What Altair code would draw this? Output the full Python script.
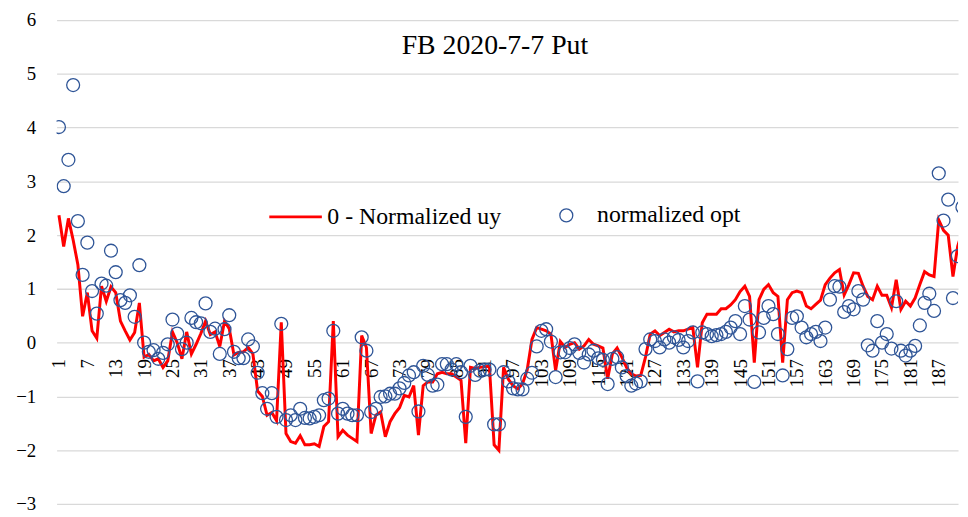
import altair as alt
import pandas as pd

FONT = "Liberation Serif"
TITLE = "FB 2020-7-7 Put"

uy = [2.37, 1.79, 2.31, 1.91, 1.45, 0.49, 0.93, 0.22, 0.08, 1.05,
      0.77, 1.04, 0.93, 0.40, 0.22, 0.05, 0.19, 0.74, -0.27, -0.22,
      -0.34, -0.30, -0.46, -0.34, 0.20, 0.00, -0.30, 0.20, -0.21, -0.03,
      0.17, 0.40, 0.15, 0.20, -0.07, 0.40, 0.26, -0.23, -0.18, -0.17,
      -0.09, -0.21, -0.90, -1.00, -1.35, -1.30, -1.45, 0.38, -1.69, -1.84,
      -1.87, -1.73, -1.90, -1.90, -1.88, -1.93, -1.56, -1.47, 0.40, -1.75,
      -1.63, -1.72, -1.78, -1.84, 0.13, -0.09, -1.69, -1.35, -1.29, -1.75,
      -1.47, -1.32, -1.21, -0.98, -1.01, -0.80, -1.72, -0.80, -0.73, -0.73,
      -0.58, -0.55, -0.58, -0.58, -0.64, -0.70, -1.87, -0.46, -0.48, -0.46,
      -0.45, -0.44, -1.90, -2.00, -0.46, -0.68, -0.80, -0.86, -0.77, -0.50,
      0.06, 0.28, 0.25, 0.22, 0.16, -0.52, 0.02, -0.09, -0.03, 0.00,
      -0.12, -0.06, 0.06, -0.03, -0.06, -0.10, -0.67, -0.21, -0.10, -0.27,
      -0.46, -0.58, -0.62, -0.61, -0.27, 0.16, 0.22, 0.13, 0.19, 0.25,
      0.20, 0.22, 0.22, 0.25, 0.28, -0.46, 0.37, 0.53, 0.53, 0.53,
      0.63, 0.63, 0.70, 0.80, 0.95, 1.05, 0.86, -0.37, 0.80, 0.99,
      1.08, 0.93, 0.86, -0.37, 0.80, 0.93, 0.96, 0.93, 0.68, 0.63,
      0.71, 0.79, 1.08, 1.20, 1.30, 1.36, 0.89, 1.08, 1.30, 1.29,
      1.05, 0.86, 0.80, 1.05, 0.88, 0.88, 0.65, 1.17, 0.62, 0.77,
      0.68, 0.83, 1.08, 1.32, 1.26, 1.23, 2.28, 2.09, 2.00, 1.23,
      1.79, 2.09]

opt = [4.01, 2.91, 3.40, 4.79, 2.26, 1.26, 1.86, 0.96, 0.54, 1.10,
       1.06, 1.71, 1.31, 0.79, 0.74, 0.88, 0.48, 1.44, 0.00, -0.17,
       -0.14, -0.30, -0.19, -0.03, 0.43, 0.17, -0.12, 0.00, 0.46, 0.38,
       0.36, 0.73, 0.20, 0.26, -0.21, 0.25, 0.51, -0.17, -0.29, -0.29,
       0.06, -0.07, -0.56, -0.94, -1.23, -0.94, -1.38, 0.35, -1.44, -1.35,
       -1.44, -1.23, -1.40, -1.41, -1.38, -1.35, -1.07, -1.04, 0.22, -1.32,
       -1.23, -1.32, -1.35, -1.35, 0.10, -0.15, -1.29, -1.23, -1.01, -1.00,
       -0.95, -0.95, -0.85, -0.75, -0.61, -0.55, -1.28, -0.43, -0.60, -0.80,
       -0.78, -0.40, -0.40, -0.50, -0.40, -0.55, -1.38, -0.43, -0.60, -0.52,
       -0.50, -0.50, -1.52, -1.52, -0.55, -0.72, -0.85, -0.87, -0.87, -0.67,
       -0.56, -0.07, 0.22, 0.25, 0.02, -0.64, -0.18, -0.18, -0.10, -0.03,
       -0.19, -0.37, -0.22, -0.15, -0.29, -0.32, -0.77, -0.30, -0.27, -0.46,
       -0.62, -0.80, -0.76, -0.72, -0.12, 0.06, 0.03, -0.09, 0.06, 0.00,
       0.10, 0.05, -0.09, 0.03, 0.19, -0.72, 0.19, 0.16, 0.12, 0.14,
       0.16, 0.20, 0.28, 0.40, 0.16, 0.68, 0.43, -0.73, 0.19, 0.46,
       0.68, 0.53, 0.16, -0.61, -0.12, 0.46, 0.49, 0.28, 0.10, 0.16,
       0.20, 0.03, 0.28, 0.80, 1.05, 1.04, 0.57, 0.68, 0.62, 0.96,
       0.80, -0.05, -0.15, 0.40, 0.00, 0.16, -0.11, 0.77, -0.15, -0.24,
       -0.15, -0.06, 0.32, 0.74, 0.91, 0.59, 3.15, 2.27, 2.66, 0.83,
       1.61, 2.52]

categories = list(range(1, len(uy) + 1))
tick_labels = list(range(1, 188, 6))
y_ticks = list(range(-3, 7))

series_line = "0 - Normalized uy"
series_point = "normalized opt"

df = pd.DataFrame({"cat": categories, "uy": uy, "opt": opt})
df["s1"] = series_line
df["s2"] = series_point

x_enc = alt.X(
    "cat:Q",
    scale=alt.Scale(domain=[0.5, 191.07], nice=False, zero=False),
    axis=alt.Axis(
        values=tick_labels, format="d", labelAngle=-90, labelFontSize=19,
        labelFont=FONT, labelColor="black", domain=False, ticks=False,
        tickSize=0, grid=False, offset=-162.5, labelPadding=16,
        labelOverlap=False, labelFlush=False, labelBound=False, title=None,
    ),
)

y_axis = alt.Axis(
    values=y_ticks, grid=True, gridColor="#d9d9d9", gridWidth=1.3,
    domain=False, ticks=False, tickSize=0, labelFontSize=19, labelFont=FONT,
    labelColor="black", labelPadding=21, title=None,
)

line = alt.Chart(df).mark_line(strokeWidth=3, clip=True).encode(
    x=x_enc,
    y=alt.Y("uy:Q", scale=alt.Scale(domain=[-3, 6], nice=False), axis=y_axis),
    color=alt.Color(
        "s1:N",
        scale=alt.Scale(domain=[series_line], range=["#ff0000"]),
        legend=alt.Legend(
            title=None, orient="none", legendX=213, legendY=170.5,
            symbolType="stroke", symbolSize=2809, symbolStrokeWidth=3,
            labelFontSize=24, labelFont=FONT, labelColor="black",
            labelOffset=4, labelLimit=0,
        ),
    ),
)

points = alt.Chart(df).mark_point(
    filled=False, size=170, strokeWidth=1.3, clip=True, opacity=1
).encode(
    x=x_enc,
    y=alt.Y("opt:Q", scale=alt.Scale(domain=[-3, 6], nice=False), axis=y_axis),
    stroke=alt.Stroke(
        "s2:N",
        scale=alt.Scale(domain=[series_point], range=["#2f5597"]),
        legend=alt.Legend(
            title=None, orient="none", legendX=502, legendY=185,
            symbolType="circle", symbolSize=170, symbolStrokeWidth=1.3,
            symbolFillColor="transparent",
            labelFontSize=24, labelFont=FONT, labelColor="black",
            labelOffset=19, labelLimit=0,
        ),
    ),
)

title = alt.Chart(pd.DataFrame({"t": [TITLE]})).mark_text(
    font=FONT, fontSize=28, color="black", align="center", baseline="alphabetic"
).encode(text="t:N", x=alt.value(442), y=alt.value(34))

chart = alt.layer(line, points, title).properties(
    width=909,
    height=488,
    autosize=alt.AutoSizeParams(type="none"),
    padding={"left": 49, "top": 10, "right": 2, "bottom": 9},
    background="white",
).configure_view(stroke=None)

chart.save("out.html", embed_options={"renderer": "svg", "actions": False})
